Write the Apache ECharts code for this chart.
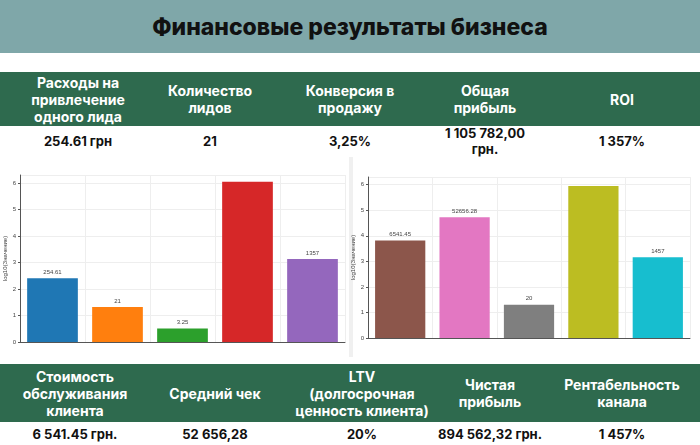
<!DOCTYPE html>
<html><head><meta charset="utf-8">
<script src="https://cdn.jsdelivr.net/npm/echarts@6/dist/echarts.min.js"></script>
<style>
body{margin:0;width:700px;height:445px;overflow:hidden;background:#fff;font-family:Inter,"Noto Sans",sans-serif;position:relative}
.title{position:absolute;left:0;top:0;width:700px;height:53px;background:#7fa7a9;display:flex;align-items:center;justify-content:center;font-size:23px;font-weight:800;color:#111}
.hdr{position:absolute;left:0;width:700px;background:#2e6a4e;color:#fff;font-weight:700;font-size:14px;line-height:17px}
.val{position:absolute;left:0;width:700px;background:#fff;color:#111;font-weight:700;font-size:13px;line-height:16px}
.c{position:absolute;text-align:center;transform:translateX(-50%);top:50%;}
.row{display:block}
#chart{position:absolute;left:0;top:157px;width:700px;height:200px}
</style></head><body>
<div class="title">Финансовые результаты бизнеса</div>
<div id="top-h" class="hdr" style="top:72px;height:54px"></div>
<div id="top-v" class="val" style="top:126px;height:30px"></div>
<div id="chart"></div>
<div id="bot-h" class="hdr" style="top:364px;height:58px"></div>
<div id="bot-v" class="val" style="top:422px;height:23px"></div>
<script>
const topHeaders=["Расходы на<br>привлечение<br>одного лида","Количество<br>лидов","Конверсия в<br>продажу","Общая<br>прибыль","ROI"];
const topValues=["254.61 грн","21","3,25%","1 105 782,00<br>грн.","1 357%"];
const topX=[78,210,350,485,622];
const botHeaders=["Стоимость<br>обслуживания<br>клиента","Средний чек","LTV<br>(долгосрочная<br>ценность клиента)","Чистая<br>прибыль","Рентабельность<br>канала"];
const botValues=["6 541.45 грн.","52 656,28","20%","894 562,32 грн.","1 457%"];
const botX=[75,215,362,490,622];
const leftCats=["a","b","c","d","e"];
const leftValues=[254.61,21,3.25,1105782,1357];
const leftLabels=["254.61","21","3.25","",""+1357];
const leftColors=["#1f77b4","#ff7f0e","#2ca02c","#d62728","#9467bd"];
const rightValues=[6541.45,52656.28,20,894562.32,1457];
const rightLabels=["6541.45","52656.28","20","","1457"];
const rightColors=["#8c564b","#e377c2","#7f7f7f","#bcbd22","#17becf"];
function fill(id,arr,xs){const el=document.getElementById(id);arr.forEach((t,i)=>{const d=document.createElement('div');d.className='c';d.style.left=xs[i]+'px';d.style.transform='translate(-50%,-50%)';d.innerHTML=t;el.appendChild(d);});}
fill('top-h',topHeaders,topX);fill('top-v',topValues,topX);fill('bot-h',botHeaders,botX);fill('bot-v',botValues,botX);
const ch=echarts.init(document.getElementById('chart'));
function mk(vals,labels,colors){return vals.map((v,i)=>({value:Math.log10(v),itemStyle:{color:colors[i]},label:{formatter:labels[i]}}));}
const axStyle={axisLine:{show:true,lineStyle:{color:'#555'}},axisTick:{show:true,length:2,lineStyle:{color:'#555'}},axisLabel:{fontSize:6,color:'#444',margin:4},splitLine:{show:true,lineStyle:{color:'#eee'}}};
const xStyle={type:'category',data:leftCats,axisLabel:{show:false},axisTick:{show:false},axisLine:{lineStyle:{color:'#555'}},splitLine:{show:true,interval:0,lineStyle:{color:'#eee'}},boundaryGap:true};
ch.setOption({animation:false,
graphic:[{type:'rect',shape:{x:349,y:0,width:4,height:200},style:{fill:'#f0f0f0'}}],
grid:[{left:20,right:355,top:18,bottom:15},{left:368,right:10,top:20,bottom:19}],
xAxis:[Object.assign({gridIndex:0},xStyle),Object.assign({gridIndex:1},xStyle)],
yAxis:[0,1].map(g=>Object.assign({gridIndex:g,type:'value',min:0,max:6.3,interval:1,name:'log10(Значение)',nameLocation:'middle',nameGap:11,nameTextStyle:{fontSize:6,color:'#444'},axisLabel:{fontSize:6,color:'#444',margin:4,showMaxLabel:false}},{axisLine:axStyle.axisLine,axisTick:axStyle.axisTick,splitLine:axStyle.splitLine})),
series:[
{type:'bar',xAxisIndex:0,yAxisIndex:0,barWidth:'78%',data:mk(leftValues,leftLabels,leftColors),label:{show:true,position:'top',fontSize:6,color:'#444',distance:3}},
{type:'bar',xAxisIndex:1,yAxisIndex:1,barWidth:'78%',data:mk(rightValues,rightLabels,rightColors),label:{show:true,position:'top',fontSize:6,color:'#444',distance:3}}
]});
</script></body></html>
